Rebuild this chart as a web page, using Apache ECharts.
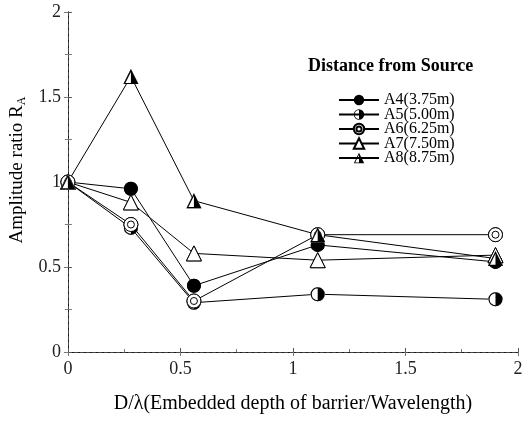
<!DOCTYPE html>
<html>
<head>
  <meta charset="UTF-8">
  <title>Amplitude ratio</title>
  <script src="https://cdn.jsdelivr.net/npm/echarts@6/dist/echarts.min.js"></script>
  <style>
    html, body { margin: 0; padding: 0; background: #fff; }
    #chart { width: 526px; height: 427px; }
  </style>
</head>
<body>
<div id="chart"></div>
<script>
  // D/lambda positions of the measurements
  var depth = [0, 0.28, 0.56, 1.11, 1.9];
  var seriesNames = ['A4(3.75m)', 'A5(5.00m)', 'A6(6.25m)', 'A7(7.50m)', 'A8(8.75m)'];
  var a4 = [1.0, 0.96, 0.39, 0.63, 0.53];
  var a5 = [1.0, 0.73, 0.29, 0.34, 0.31];
  var a6 = [1.0, 0.75, 0.30, 0.69, 0.69];
  var a7 = [1.0, 0.88, 0.58, 0.54, 0.57];
  var a8 = [1.0, 1.62, 0.89, 0.69, 0.55];
  var yTicks = [0, 0.5, 1, 1.5, 2];

  var serif = 'Liberation Serif';

  // marker shapes (black parts only, white parts come from an underlay)
  var halfCircle = 'path://M10 0A10 10 0 0 1 10 20A10 10 0 0 1 10 0Z' +
    'M10 1.5A8.5 8.5 0 0 0 10 18.5A8.5 8.5 0 0 0 10 1.5Z' +
    'M10 0A10 10 0 0 1 10 20Z';
  var twoCircles = 'path://M10 0A10 10 0 0 1 10 20A10 10 0 0 1 10 0Z' +
    'M10 5A5 5 0 0 1 10 15A5 5 0 0 1 10 5Z';
  var halfTriangle = 'path://M10 0L20 18L0 18Z' +
    'M10 3.4L2.7 16.6L17.3 16.6Z' +
    'M10 0L20 18L10 18Z';

  function pairs(ys) {
    var out = [];
    for (var i = 0; i < depth.length; i++) {
      out.push([depth[i], ys[i]]);
    }
    return out;
  }

  function mkSeries(name, ys, symbol, size, item) {
    return {
      name: name,
      type: 'line',
      z: 2,
      data: pairs(ys),
      symbol: symbol,
      symbolSize: size,
      lineStyle: { color: '#000', width: 1 },
      itemStyle: item
    };
  }

  // marker-only copy drawn above every line
  function mkMarks(name, ys, symbol, size, item) {
    return {
      name: name,
      type: 'line',
      z: 3,
      data: pairs(ys),
      symbol: symbol,
      symbolSize: size,
      lineStyle: { width: 0, opacity: 0 },
      itemStyle: item,
      silent: true
    };
  }

  var solid = { color: '#000', borderWidth: 0 };
  var hollow = { color: '#fff', borderColor: '#000', borderWidth: 1 };
  var blank = { color: '#fff', borderWidth: 0 };

  var myChart = echarts.init(document.getElementById('chart'));

  var option = {
    animation: false,
    backgroundColor: '#fff',
    title: {
      text: 'Distance from Source',
      left: 303,
      top: 52,
      textStyle: { fontFamily: serif, fontWeight: 'bold', fontSize: 18, color: '#000' }
    },
    legend: {
      orient: 'vertical',
      left: 333,
      top: 87,
      itemWidth: 40,
      itemHeight: 13,
      itemGap: -1.5,
      data: seriesNames,
      textStyle: { fontFamily: serif, fontSize: 16, color: '#000' }
    },
    grid: { left: 62, right: 8, top: 12, bottom: 75 },
    xAxis: [{
      type: 'value',
      min: 0, max: 2, interval: 0.5,
      name: 'D/λ(Embedded depth of barrier/Wavelength)',
      nameLocation: 'middle',
      nameGap: 42,
      nameTextStyle: { fontFamily: serif, fontSize: 20, color: '#000' },
      axisLine: { lineStyle: { color: '#000', width: 1 } },
      axisTick: { show: true, inside: true, length: 4, lineStyle: { color: '#555' } },
      minorTick: { show: true, splitNumber: 2, length: 3, lineStyle: { color: '#777' } },
      axisLabel: { fontFamily: serif, fontSize: 18, color: '#222', margin: 8 },
      splitLine: { show: false }
    }, {
      type: 'value', position: 'top',
      min: 0, max: 2, interval: 0.5,
      axisLine: { show: true, lineStyle: { color: '#444', type: 'dashed', width: 1 } },
      axisTick: { show: true, inside: true, length: 4, lineStyle: { color: '#777' } },
      axisLabel: { show: false },
      splitLine: { show: false }
    }],
    yAxis: [{
      type: 'value',
      min: 0, max: 2, interval: 0.5,
      name: 'Amplitude ratio R{sub|A}',
      nameLocation: 'middle',
      nameGap: 34,
      nameTextStyle: {
        fontFamily: serif, fontSize: 19, color: '#000', padding: [0, 0, 0, 24],
        rich: { sub: { fontFamily: serif, fontSize: 12, color: '#000', verticalAlign: 'bottom', padding: [8, 0, 0, 0] } }
      },
      axisLine: { show: true, lineStyle: { color: '#000', width: 1 } },
      axisTick: { show: true, inside: true, length: 4, lineStyle: { color: '#555' } },
      minorTick: { show: true, splitNumber: 2, length: 4, lineStyle: { color: '#777' } },
      axisLabel: {
        fontFamily: serif, fontSize: 18, color: '#222', margin: 7,
        customValues: yTicks
      },
      splitLine: { show: false }
    }, {
      type: 'value', position: 'right',
      min: 0, max: 2, interval: 0.5,
      axisLine: { show: true, lineStyle: { color: '#444', type: 'dashed', width: 1 } },
      axisTick: { show: true, inside: true, length: 4, lineStyle: { color: '#777' } },
      minorTick: { show: true, splitNumber: 2, length: 3, lineStyle: { color: '#777' } },
      axisLabel: { show: false },
      splitLine: { show: false }
    }],
    series: [
      mkSeries(seriesNames[0], a4, 'circle', 14, solid),
      mkSeries(seriesNames[1], a5, halfCircle, 14, solid),
      mkSeries(seriesNames[2], a6, twoCircles, 14, hollow),
      mkSeries(seriesNames[3], a7, 'triangle', 15, hollow),
      mkSeries(seriesNames[4], a8, halfTriangle, 15, solid),
      // markers on top of the lines
      mkMarks('m4', a4, 'circle', 14, solid),
      mkMarks('u5', a5, 'circle', 14, blank),
      mkMarks('m5', a5, halfCircle, 14, solid),
      mkMarks('m6', a6, twoCircles, 14, hollow),
      mkMarks('m7', a7, 'triangle', 15, hollow),
      mkMarks('u8', a8, 'triangle', 15, blank),
      mkMarks('m8', a8, halfTriangle, 15, solid)
    ]
  };
  myChart.setOption(option);
</script>
</body>
</html>
